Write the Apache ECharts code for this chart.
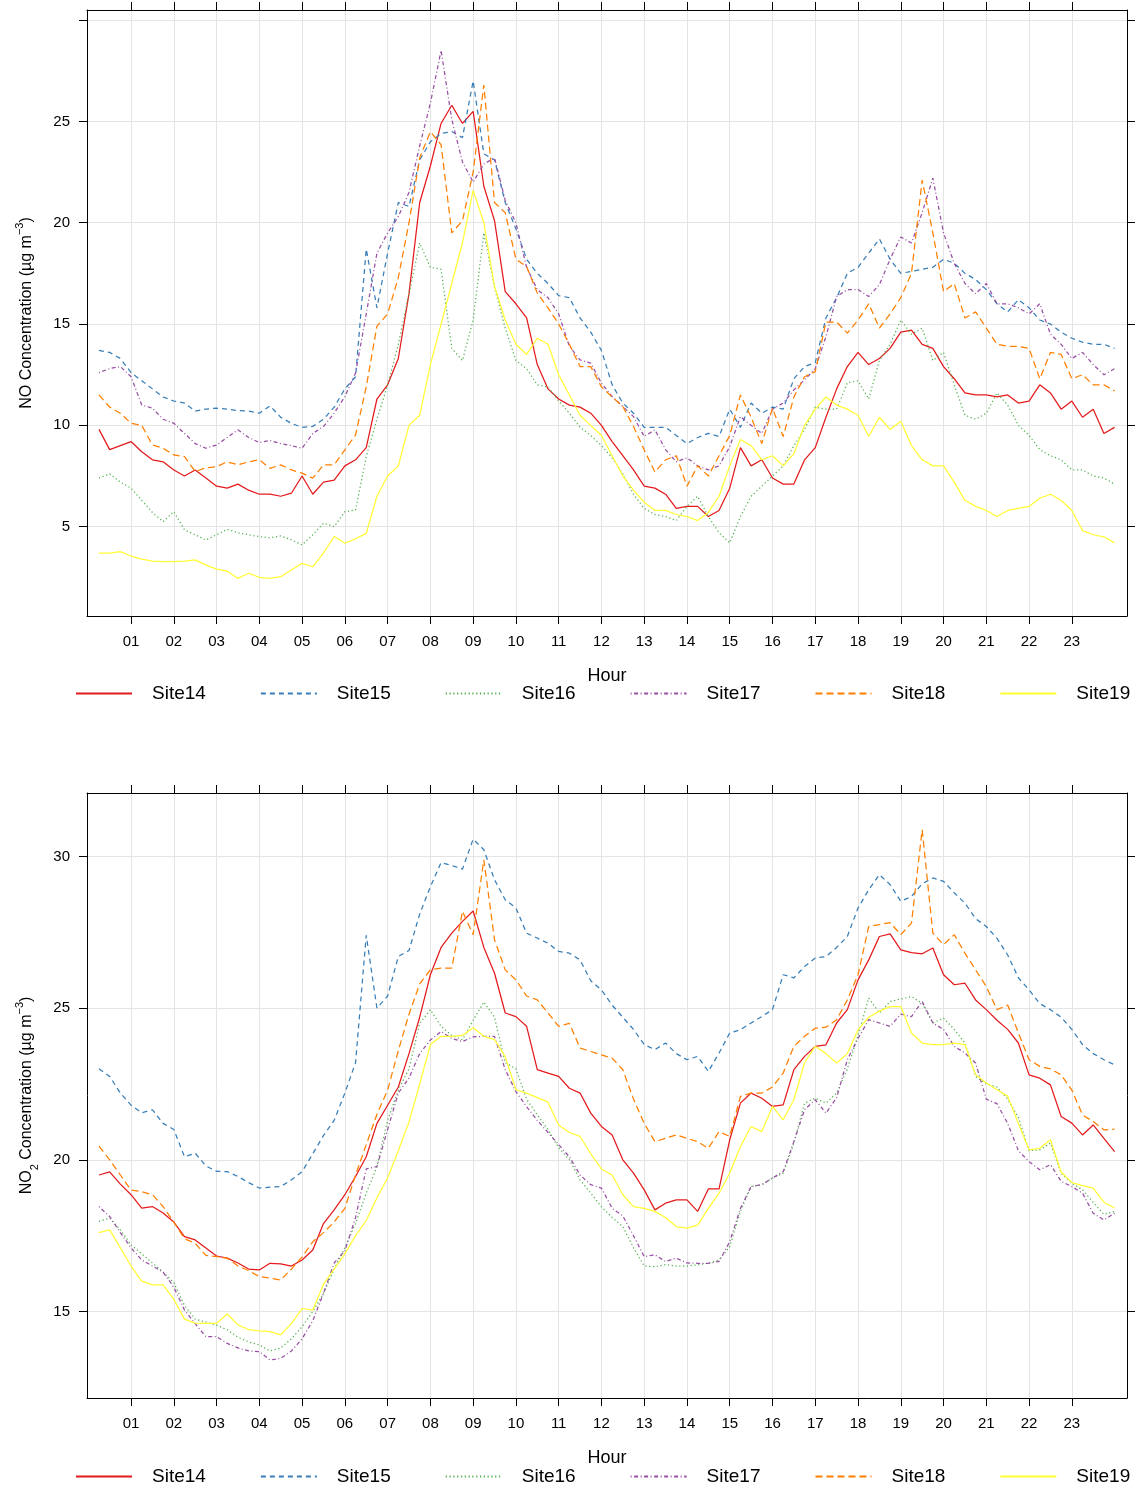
<!DOCTYPE html>
<html>
<head>
<meta charset="utf-8">
<title>NO and NO2 diurnal profiles</title>
<script src="https://cdn.jsdelivr.net/npm/echarts@6/dist/echarts.min.js"></script>
<style>
  html, body { margin: 0; padding: 0; background: #ffffff; }
  #chart { width: 1140px; height: 1488px; }
</style>
</head>
<body>
<div id="chart"></div>
<script>
// Hour of day for each 15-minute mean (00:15 ... 24:00)
const hours = Array.from({ length: 96 }, (_, i) => (i + 1) / 4);
const hourTicks = [1,2,3,4,5,6,7,8,9,10,11,12,13,14,15,16,17,18,19,20,21,22,23];
const siteNames = ['Site14', 'Site15', 'Site16', 'Site17', 'Site18', 'Site19'];

// NO concentration (ug m-3)
const no14 = [9.8,8.8,9.0,9.2, 8.7,8.3,8.2,7.8, 7.5,7.8,7.4,7.0, 6.9,7.1,6.8,6.6, 6.6,6.5,6.65,7.5, 6.6,7.2,7.3,8.0, 8.3,8.9,11.3,12.0, 13.3,16.5,21.0,22.8, 24.9,25.8,24.9,25.5, 21.8,20.1,16.6,16.0, 15.3,13.0,11.8,11.3, 11.0,10.9,10.6,10.0, 9.2,8.5,7.8,7.0, 6.9,6.6,5.9,6.0, 6.0,5.5,5.8,6.9, 8.9,8.0,8.3,7.4, 7.1,7.1,8.3,8.9, 10.4,11.8,12.9,13.6, 13.0,13.3,13.8,14.6, 14.7,14.0,13.8,12.9, 12.3,11.6,11.5,11.5, 11.4,11.5,11.1,11.2, 12.0,11.6,10.8,11.2, 10.4,10.8,9.6,9.9];
const no15 = [13.7,13.6,13.3,12.6, 12.2,11.8,11.4,11.2, 11.1,10.7,10.8,10.85, 10.8,10.73,10.7,10.6, 10.96,10.4,10.1,9.9, 9.95,10.3,10.9,11.8, 12.4,18.7,15.8,18.5, 21.0,20.8,23.1,24.0, 24.4,24.5,24.2,27.0, 23.4,23.1,21.0,19.7, 18.2,17.5,17.0,16.4, 16.3,15.3,14.6,13.7, 12.0,11.1,10.6,9.9, 9.9,9.9,9.5,9.1, 9.4,9.6,9.45,10.8, 9.9,11.1,10.6,10.9, 10.8,12.3,12.9,13.1, 15.3,16.3,17.5,17.8, 18.5,19.2,18.2,17.5, 17.6,17.7,17.8,18.2, 18.0,17.5,17.2,16.7, 16.0,15.6,16.2,15.8, 15.2,15.0,14.6,14.3, 14.1,14.0,14.0,13.8];
const no16 = [7.4,7.6,7.2,6.9, 6.3,5.7,5.25,5.74, 4.84,4.6,4.34,4.6, 4.87,4.7,4.6,4.51, 4.45,4.54,4.35,4.1, 4.6,5.17,5.0,5.74, 5.82,8.46,10.3,12.0, 14.0,16.5,19.0,17.8, 17.7,13.8,13.2,15.2, 19.5,16.8,14.8,13.2, 12.8,12.0,11.9,11.2, 10.6,9.9,9.5,9.0, 8.4,7.6,6.6,5.9, 5.6,5.5,5.3,6.0, 6.5,5.5,4.7,4.2, 5.5,6.5,7.0,7.5, 8.0,9.0,9.8,10.9, 10.8,10.8,12.1,12.2, 11.3,13.2,14.0,15.2, 14.5,14.8,13.2,13.6, 12.0,10.5,10.3,10.6, 11.6,11.0,10.0,9.5, 8.8,8.5,8.3,7.8, 7.8,7.5,7.4,7.1];
const no17 = [12.6,12.8,12.9,12.4, 11.0,10.85,10.3,10.1, 9.6,9.1,8.87,9.03, 9.4,9.78,9.4,9.15, 9.25,9.1,9.0,8.87, 9.6,9.94,10.6,11.42, 12.58,15.5,18.5,19.5, 20.3,21.5,23.8,25.9, 28.5,25.1,23.0,22.0, 22.9,23.2,21.1,20.0, 17.8,16.7,16.3,15.5, 13.9,13.23,13.07,12.08, 11.42,10.93,10.43,9.45, 9.78,8.8,8.2,8.4, 8.0,7.8,8.0,8.95, 10.43,10.0,9.6,10.8, 11.1,11.75,12.25,12.8, 14.38,16.36,16.7,16.7, 16.36,16.94,18.2,19.3, 19.0,20.5,22.2,19.5, 18.0,17.0,16.5,17.0, 16.0,16.0,15.8,15.5, 16.0,14.5,14.0,13.3, 13.6,13.0,12.5,12.8];
const no18 = [11.5,10.9,10.6,10.1, 10.0,9.03,8.87,8.54, 8.46,7.72,7.9,7.96, 8.2,8.05,8.2,8.3, 7.88,8.05,7.8,7.64, 7.39,8.05,8.05,8.79, 9.53,11.9,14.9,15.5, 17.3,20.0,23.2,24.5, 23.85,19.5,20.1,22.5, 26.8,21.0,20.5,18.2, 17.84,16.53,15.8,15.0, 14.0,12.9,12.9,11.9, 11.4,10.93,9.94,8.79, 7.7,8.3,8.5,7.0, 8.0,7.5,8.5,9.5, 11.5,10.4,9.1,10.85, 9.45,11.4,12.4,12.65, 15.1,15.1,14.55,15.2, 16.0,14.8,15.5,16.3, 17.5,22.1,19.5,16.6, 17.0,15.3,15.6,14.8, 14.0,13.9,13.9,13.8, 12.3,13.6,13.5,12.3, 12.5,12.0,12.0,11.7];
const no19 = [3.69,3.69,3.77,3.55, 3.4,3.3,3.27,3.27, 3.3,3.36,3.1,2.9, 2.8,2.45,2.7,2.5, 2.45,2.53,2.86,3.19, 3.02,3.7,4.51,4.18, 4.4,4.67,6.5,7.5, 8.0,10.0,10.5,13.0, 15.0,17.0,19.0,21.6, 20.0,16.85,15.2,14.0, 13.5,14.3,14.0,12.5, 11.5,10.5,10.0,9.5, 8.5,7.5,6.8,6.2, 5.8,5.8,5.6,5.5, 5.3,5.7,6.5,8.0, 9.3,9.0,8.3,8.5, 8.0,8.6,10.0,10.8, 11.4,11.0,10.8,10.5, 9.45,10.4,9.8,10.2, 9.0,8.3,8.0,8.0, 7.2,6.3,6.0,5.8, 5.5,5.8,5.9,6.0, 6.4,6.6,6.3,5.8, 4.8,4.6,4.5,4.2];

// NO2 concentration (ug m-3)
const no2_14 = [19.5,19.6,19.2,18.85,18.41,18.46,18.25,17.95,17.47,17.36, 17.09,16.83,16.76,16.6,16.4,16.37,16.59,16.57,16.5,16.7, 17.03,17.9,18.35,18.85,19.45,20.1,21.2,21.8,22.4,23.5, 24.7,26.1,27.0,27.47,27.86,28.2,27.0,26.15,24.84,24.72, 24.4,22.97,22.86,22.75,22.36,22.2,21.54,21.1,20.82,20.0, 19.56,19.01,18.35,18.57,18.68,18.68,18.3,19.04,19.04,20.66, 21.87,22.2,22.03,21.76,21.81,22.97,23.41,23.74,23.79,24.51, 24.95,25.93,26.59,27.36,27.45,26.92,26.83,26.79,26.98,26.1, 25.77,25.82,25.27,24.95,24.6,24.3,23.85,22.8,22.69,22.47, 21.43,21.21,20.82,21.15,20.71,20.27];
const no2_15 = [23.0,22.75,22.2,21.8,21.55,21.65,21.2,21.0,20.1,20.22, 19.8,19.62,19.61,19.45,19.25,19.07,19.1,19.12,19.34,19.61, 20.2,20.8,21.3,22.2,23.2,27.4,25.0,25.4,26.7,26.9, 28.1,29.0,29.8,29.7,29.58,30.57,30.22,29.23,28.57,28.3, 27.47,27.31,27.14,26.87,26.81,26.59,25.9,25.6,25.1,24.7, 24.3,23.8,23.63,23.85,23.5,23.3,23.41,22.91,23.52,24.18, 24.29,24.51,24.72,24.95,26.1,26.0,26.37,26.65,26.7,27.0, 27.36,28.3,28.9,29.4,29.07,28.52,28.68,29.1,29.29,29.18, 28.8,28.46,27.95,27.69,27.3,26.75,26.0,25.6,25.15,24.95, 24.7,24.3,23.8,23.5,23.3,23.13];
const no2_16 = [17.97,18.08,17.69,17.2,16.9,16.6,16.3,15.95,15.2,14.75, 14.65,14.55,14.4,14.15,14.0,13.9,13.7,13.8,14.1,14.5, 15.0,15.6,16.4,17.1,17.9,18.9,19.78,21.3,22.3,23.0, 24.5,24.95,24.4,24.1,23.96,24.6,25.2,24.7,23.2,23.0, 22.0,21.48,21.0,20.4,20.0,19.34,18.9,18.45,18.1,17.8, 17.1,16.5,16.48,16.55,16.5,16.5,16.54,16.59,16.7,17.14, 18.3,19.12,19.18,19.4,19.56,20.55,21.87,22.03,21.87,22.2, 23.0,24.1,25.33,24.84,25.22,25.3,25.38,25.16,24.51,24.67, 24.3,23.85,22.75,22.5,22.4,22.0,21.4,20.3,20.33,20.55, 19.56,19.23,19.01,18.6,18.2,18.3];
const no2_17 = [18.46,18.13,17.6,17.1,16.7,16.5,16.3,15.8,15.05,14.6, 14.17,14.17,13.95,13.8,13.7,13.68,13.4,13.46,13.7,14.1, 14.7,15.6,16.6,17.0,18.1,19.7,19.78,21.0,22.2,22.7, 23.5,23.95,24.23,24.0,23.9,24.05,24.07,24.07,22.97,22.25, 21.75,21.3,20.9,20.5,20.1,19.5,19.18,19.07,18.4,18.15, 17.5,16.81,16.87,16.65,16.76,16.6,16.59,16.59,16.65,17.3, 18.4,19.12,19.18,19.4,19.61,20.6,21.65,21.98,21.54,22.05, 23.3,24.0,24.62,24.51,24.4,24.8,24.72,25.22,24.51,24.3, 23.74,23.52,23.19,22.0,21.85,21.2,20.3,19.94,19.67,19.84, 19.29,19.12,18.9,18.24,18.02,18.24];
const no2_18 = [20.45,20.0,19.5,19.0,18.95,18.85,18.46,17.95,17.4,17.25, 16.85,16.81,16.76,16.5,16.35,16.15,16.1,16.04,16.4,16.8, 17.3,17.6,17.95,18.4,19.5,20.5,21.5,22.3,23.6,24.8, 25.8,26.26,26.32,26.32,28.19,27.42,29.89,27.25,26.26,25.93, 25.4,25.27,24.84,24.4,24.5,23.68,23.57,23.46,23.35,22.97, 22.0,21.2,20.6,20.71,20.82,20.71,20.6,20.38,20.93,20.77, 22.09,22.2,22.2,22.4,22.86,23.74,24.07,24.34,24.37,24.62, 25.27,26.1,27.69,27.75,27.82,27.42,27.8,30.88,27.47,27.09, 27.42,26.81,26.26,25.71,24.95,25.1,24.18,23.3,23.08,23.0, 22.8,22.3,21.48,21.26,20.99,21.01];
const no2_19 = [17.6,17.69,17.1,16.5,16.0,15.88,15.88,15.4,14.75,14.62, 14.61,14.61,14.92,14.56,14.4,14.36,14.34,14.23,14.6,15.1, 15.05,15.9,16.4,16.9,17.5,18.0,18.75,19.4,20.3,21.25, 22.5,23.8,24.07,24.07,24.1,24.35,24.07,23.96,23.4,22.31, 22.2,22.05,21.9,21.15,20.9,20.77,20.2,19.7,19.5,18.85, 18.46,18.4,18.3,18.1,17.8,17.75,17.85,18.4,18.9,19.56, 20.44,21.1,20.93,21.76,21.32,21.98,23.2,23.74,23.5,23.19, 23.5,24.29,24.7,24.9,25.05,25.05,24.18,23.85,23.8,23.8, 23.85,23.8,22.8,22.53,22.31,22.1,21.2,20.33,20.38,20.66, 19.6,19.25,19.15,19.07,18.6,18.41];

const noTicks = [5, 10, 15, 20, 25, 30];
const noLabels = [5, 10, 15, 20, 25];
const no2Ticks = [15, 20, 25, 30];

// Line appearance per site (Set1 palette, lattice-style line types)
const siteStyles = [
  { color: '#E41A1C', type: 'solid' },
  { color: '#377EB8', type: [5, 4] },
  { color: '#4DAF4A', type: [1.2, 2.6] },
  { color: '#984EA3', type: [1, 2.5, 4, 2.5] },
  { color: '#FF7F00', type: [7, 4] },
  { color: '#FFFF33', type: 'solid' }
];

const FONT = 'Liberation Sans, Arial, Helvetica, sans-serif';
const frameColor = '#000000';
const gridColor = '#e4e4e4';

function bottomX(gridIndex) {
  return {
    type: 'value', gridIndex, position: 'bottom',
    min: -0.03, max: 24.29,
    name: 'Hour', nameLocation: 'middle', nameGap: 51,
    nameTextStyle: { fontFamily: FONT, fontSize: 18, color: '#000' },
    axisLine: { show: true, onZero: false, lineStyle: { color: frameColor, width: 1 } },
    axisTick: { show: true, inside: false, length: 8, customValues: hourTicks, lineStyle: { color: frameColor } },
    axisLabel: { show: true, customValues: hourTicks, margin: 18, fontFamily: FONT, fontSize: 15, color: '#000',
      formatter: v => String(v).padStart(2, '0') },
    splitLine: { show: true, lineStyle: { color: gridColor, width: 1 } }
  };
}
function topX(gridIndex) {
  return {
    type: 'value', gridIndex, position: 'top',
    min: -0.03, max: 24.29,
    axisLine: { show: true, onZero: false, lineStyle: { color: frameColor, width: 1 } },
    axisTick: { show: true, inside: false, length: 8, customValues: hourTicks, lineStyle: { color: frameColor } },
    axisLabel: { show: false },
    splitLine: { show: false }
  };
}
function leftY(gridIndex, min, max, ticks, labels, nameRich) {
  return {
    type: 'value', gridIndex, position: 'left',
    min, max,
    name: nameRich, nameLocation: 'middle', nameRotate: 90, nameGap: 47,
    nameTextStyle: {
      fontFamily: FONT, fontSize: 16, color: '#000',
      rich: {
        sup: { fontFamily: FONT, fontSize: 11, color: '#000', verticalAlign: 'top', lineHeight: 26 },
        sub: { fontFamily: FONT, fontSize: 11, color: '#000', verticalAlign: 'bottom', lineHeight: 14 }
      }
    },
    axisLine: { show: true, onZero: false, lineStyle: { color: frameColor, width: 1 } },
    axisTick: { show: true, inside: false, length: 8, customValues: ticks, lineStyle: { color: frameColor } },
    axisLabel: { show: true, customValues: labels, margin: 17, fontFamily: FONT, fontSize: 15, color: '#000' },
    splitLine: { show: true, lineStyle: { color: gridColor, width: 1 } }
  };
}
function rightY(gridIndex, min, max, ticks) {
  return {
    type: 'value', gridIndex, position: 'right',
    min, max,
    axisLine: { show: true, onZero: false, lineStyle: { color: frameColor, width: 1 } },
    axisTick: { show: true, inside: false, length: 8, customValues: ticks, lineStyle: { color: frameColor } },
    axisLabel: { show: false },
    splitLine: { show: false }
  };
}

function makeSeries(values, siteIndex, xAxisIndex, yAxisIndex) {
  const st = siteStyles[siteIndex];
  return {
    name: siteNames[siteIndex],
    type: 'line',
    xAxisIndex, yAxisIndex,
    data: hours.map((h, i) => [h, values[i]]),
    symbol: 'none',
    showSymbol: false,
    smooth: false,
    silent: true,
    lineStyle: { color: st.color, width: 1.25, type: st.type },
    itemStyle: { color: st.color },
    z: 3
  };
}

// Key under each panel: line sample followed by the site name
function legendAt(top) {
  return {
    data: siteNames,
    top, left: 75, width: 1120,
    padding: 0,
    orient: 'horizontal',
    itemWidth: 56, itemHeight: 14,
    itemGap: 54,
    selectedMode: false,
    itemStyle: { opacity: 0, borderWidth: 0 },
    textStyle: { fontFamily: FONT, fontSize: 19, color: '#000', padding: [0, 0, 0, 15] }
  };
}

const noSets = [no14, no15, no16, no17, no18, no19];
const no2Sets = [no2_14, no2_15, no2_16, no2_17, no2_18, no2_19];

const series = [];
noSets.forEach((arr, k) => series.push(makeSeries(arr, k, 0, 0)));
no2Sets.forEach((arr, k) => series.push(makeSeries(arr, k, 2, 2)));

const option = {
  backgroundColor: '#ffffff',
  animation: false,
  textStyle: { fontFamily: FONT },
  grid: [
    { left: 87, top: 10, width: 1040, height: 606, containLabel: false },
    { left: 87, top: 793, width: 1040, height: 605, containLabel: false }
  ],
  xAxis: [bottomX(0), topX(0), bottomX(1), topX(1)],
  yAxis: [
    leftY(0, 0.59, 30.5, noTicks, noLabels, 'NO Concentration (µg m{sup|−3})'),
    rightY(0, 0.59, 30.5, noTicks),
    leftY(1, 12.15, 32.09, no2Ticks, no2Ticks, 'NO{sub|2} Concentration (µg m{sup|−3})'),
    rightY(1, 12.15, 32.09, no2Ticks)
  ],
  legend: [legendAt(684), legendAt(1467)],
  series
};

const chart = echarts.init(document.getElementById('chart'), null, { renderer: 'canvas' });
chart.setOption(option);
</script>
</body>
</html>
